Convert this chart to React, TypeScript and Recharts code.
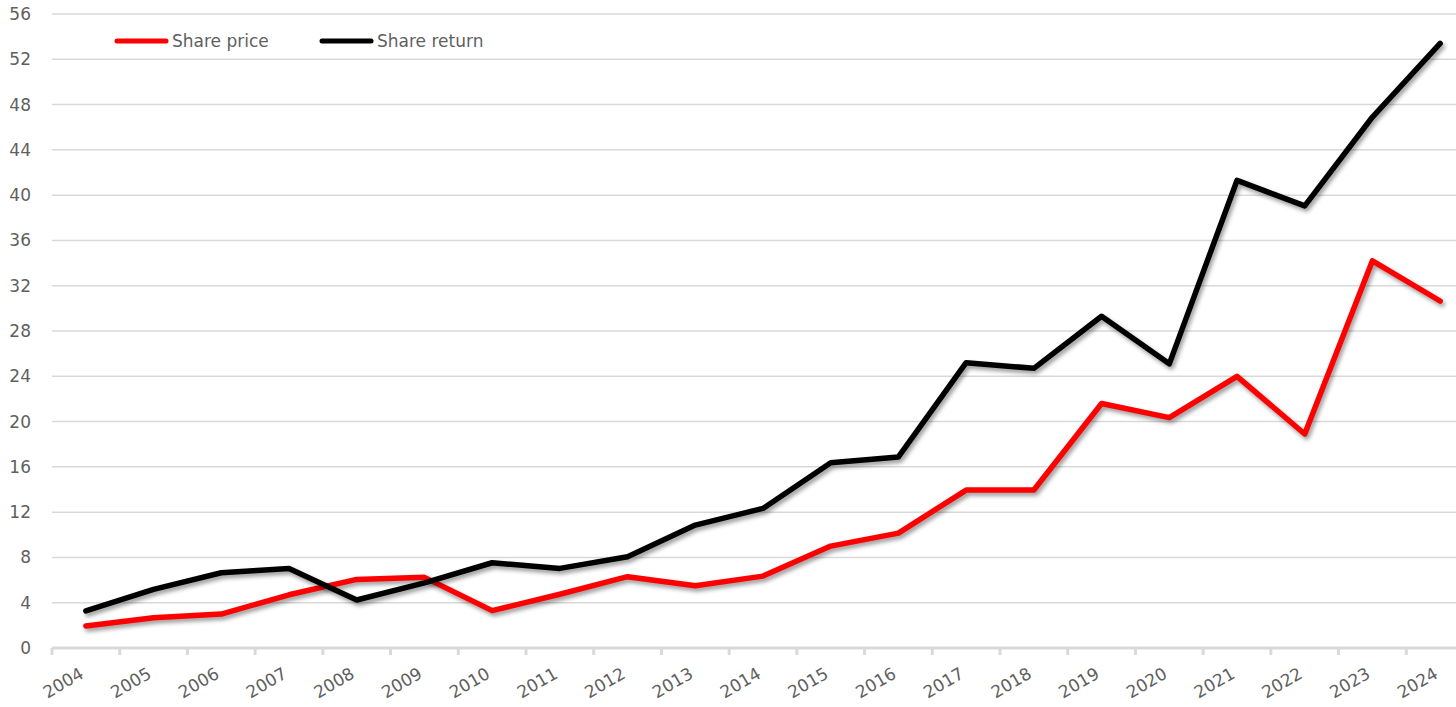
import React from 'react';
import { LineChart, Line, XAxis, YAxis, CartesianGrid, Legend } from 'recharts';

const years = ['2004', '2005', '2006', '2007', '2008', '2009', '2010', '2011', '2012', '2013', '2014', '2015', '2016', '2017', '2018', '2019', '2020', '2021', '2022', '2023', '2024'];
const sharePrice = [1.94, 2.67, 3.0, 4.7, 6.06, 6.24, 3.3, 4.75, 6.3, 5.5, 6.35, 9.0, 10.15, 13.95, 13.95, 21.6, 20.35, 24.0, 18.9, 34.2, 30.65];
const shareReturn = [3.27, 5.18, 6.65, 7.03, 4.24, 5.75, 7.53, 7.03, 8.06, 10.86, 12.33, 16.36, 16.88, 25.2, 24.7, 29.3, 25.1, 41.3, 39.05, 46.9, 53.4];
const yTicks = [0, 4, 8, 12, 16, 20, 24, 28, 32, 36, 40, 44, 48, 52, 56];
const seriesNames = { price: 'Share price', ret: 'Share return' };
const seriesColors = { price: '#ff0000', ret: '#000000' };

const data = years.map((y, i) => ({ year: y, price: sharePrice[i], ret: shareReturn[i] }));

const FONT = '"DejaVu Sans", sans-serif';
const TEXT = '#5f5f5f';
const GRID = '#d9d9d9';

const XTick = (props: any) => {
  const { x, y, payload, index, visibleTicksCount } = props;
  const off = payload && payload.offset ? payload.offset : 0;
  return (
    <g>
      <line x1={x - off} x2={x - off} y1={y} y2={y + 7} stroke={GRID} strokeWidth={3} />
      {index === visibleTicksCount - 1 ? (
        <line x1={x + off} x2={x + off} y1={y} y2={y + 7} stroke={GRID} strokeWidth={3} />
      ) : null}
      <text
        x={x - 1}
        y={y + 29}
        transform={`rotate(-30, ${x - 1}, ${y + 29})`}
        textAnchor="end"
        fill={TEXT}
        fontSize={17}
        fontFamily={FONT}
      >
        {payload.value}
      </text>
    </g>
  );
};

const LegendContent = () => {
  const items = [
    { key: 'price', name: seriesNames.price, color: seriesColors.price },
    { key: 'ret', name: seriesNames.ret, color: seriesColors.ret },
  ];
  return (
    <div style={{ display: 'flex', alignItems: 'center', fontFamily: FONT, fontSize: 17, color: TEXT }}>
      {items.map((it) => (
        <div key={it.key} style={{ display: 'flex', alignItems: 'center', width: 205 }}>
          <svg width={58} height={10} style={{ display: 'block' }}>
            <line x1={3} x2={52} y1={5} y2={5} stroke={it.color} strokeWidth={5} strokeLinecap="round" />
          </svg>
          <span style={{ whiteSpace: 'nowrap' }}>{it.name}</span>
        </div>
      ))}
    </div>
  );
};

export default function App() {
  return (
    <div style={{ position: 'absolute', top: 0, left: 0, width: 1456, height: 707, overflow: 'hidden', background: '#fff' }}>
      <style>{'.recharts-line-curve{filter:drop-shadow(2px 3px 2px rgba(0,0,0,0.4));}'}</style>
      <LineChart width={1480} height={707} data={data} margin={{ top: 14, right: 6, bottom: 0, left: 0 }}>
        <CartesianGrid vertical={false} stroke={GRID} strokeWidth={1.5} />
        <XAxis
          dataKey="year"
          scale="band"
          interval={0}
          height={59}
          tickLine={false}
          tickSize={0}
          tickMargin={0}
          axisLine={{ stroke: GRID, strokeWidth: 3 }}
          tick={<XTick />}
        />
        <YAxis
          domain={[0, 56]}
          ticks={yTicks}
          interval={0}
          width={52}
          axisLine={false}
          tickLine={false}
          tickSize={0}
          tickMargin={21}
          tick={{ fill: TEXT, fontSize: 17, fontFamily: FONT }}
        />
        <Legend
          layout="horizontal"
          verticalAlign="middle"
          align="center"
          content={<LegendContent />}
          wrapperStyle={{ top: 31, left: 114, width: 'auto', height: 'auto' }}
        />
        <Line
          type="linear"
          dataKey="price"
          name={seriesNames.price}
          stroke={seriesColors.price}
          strokeWidth={5.5}
          strokeLinecap="round"
          strokeLinejoin="round"
          dot={false}
          activeDot={false}
          isAnimationActive={false}
        />
        <Line
          type="linear"
          dataKey="ret"
          name={seriesNames.ret}
          stroke={seriesColors.ret}
          strokeWidth={5.5}
          strokeLinecap="round"
          strokeLinejoin="round"
          dot={false}
          activeDot={false}
          isAnimationActive={false}
        />
      </LineChart>
    </div>
  );
}
